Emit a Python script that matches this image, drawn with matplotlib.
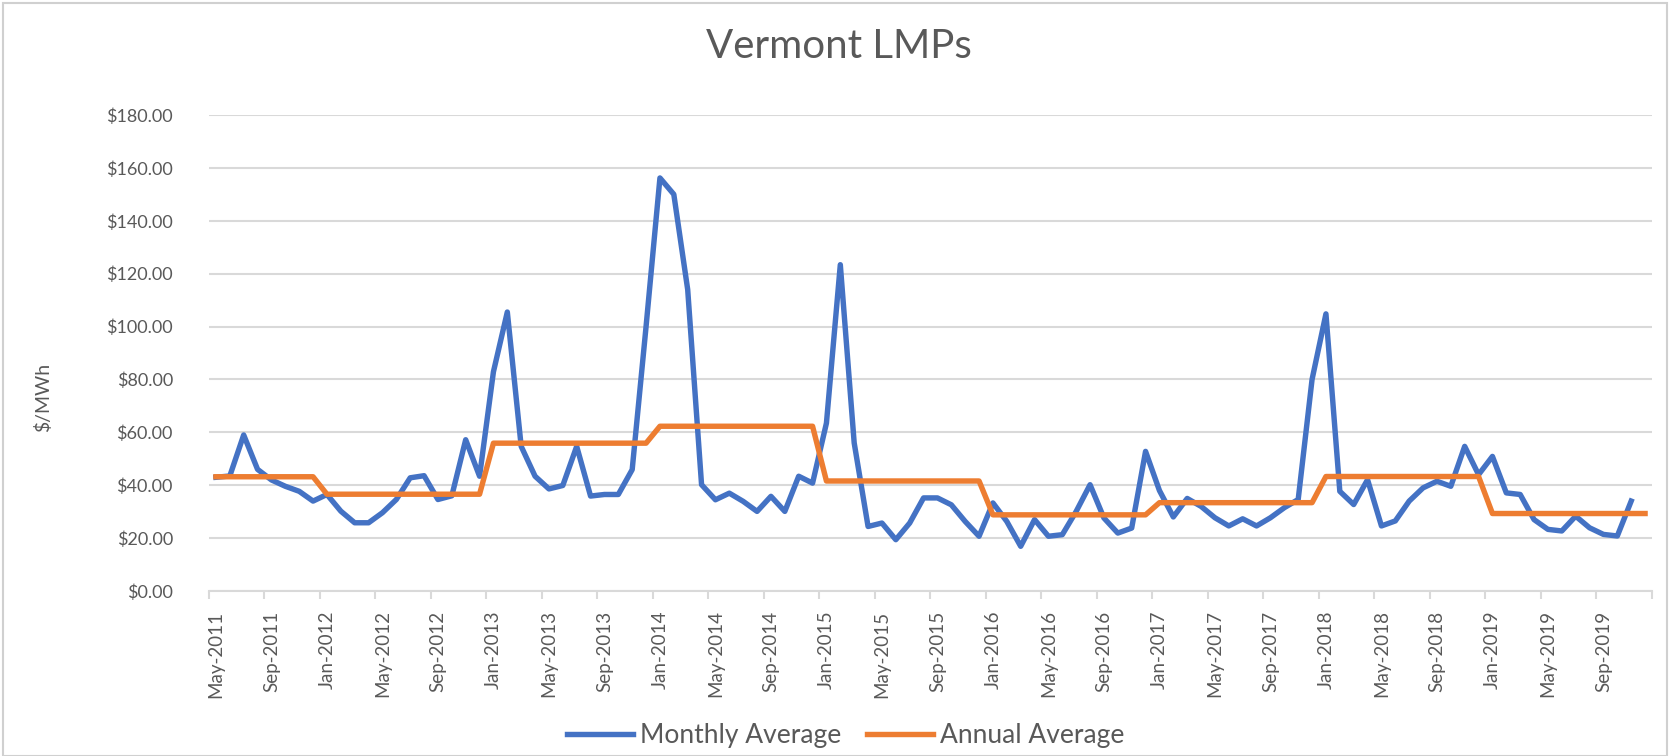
import numpy as np
import pandas as pd
import matplotlib
matplotlib.use('Agg')
import matplotlib.pyplot as plt
from matplotlib.patches import Rectangle

plt.rcParams['font.family'] = ['Lato', 'DejaVu Sans']

# 月次平均 (May-2011 .. Nov-2019), $/MWh
monthly = [43.0, 43.5, 59.0, 46.0, 42.0, 39.6, 37.7, 34.0,
           36.5, 30.2, 25.8, 25.8, 29.6, 34.6, 42.8, 43.6, 34.6, 36.0, 57.2, 43.4,
           82.9, 105.5, 54.7, 43.4, 38.6, 39.9, 54.7, 35.9, 36.5, 36.5, 45.9, 100.0,
           156.2, 150.0, 114.0, 40.2, 34.5, 37.0, 33.9, 30.1, 35.8, 30.1, 43.4, 40.8,
           63.5, 123.4, 56.0, 24.4, 25.7, 19.4, 25.7, 35.2, 35.2, 32.6, 26.3, 20.7,
           33.3, 26.3, 16.9, 27.0, 20.7, 21.3, 30.1, 40.2, 27.6, 21.9, 23.8, 52.8,
           38.0, 28.0, 35.0, 32.0, 27.7, 24.6, 27.3, 24.6, 27.7, 31.5, 34.6, 80.0,
           104.8, 37.7, 32.7, 42.1, 24.6, 26.5, 34.0, 39.0, 41.5, 39.6, 54.7, 44.0,
           50.9, 37.1, 36.5, 27.0, 23.3, 22.7, 28.3, 23.9, 21.4, 20.8, 34.0]

# 年平均
years = [2011, 2012, 2013, 2014, 2015, 2016, 2017, 2018, 2019]
annual = [43.2, 36.6, 55.9, 62.3, 41.6, 28.8, 33.4, 43.3, 29.3]

months = pd.date_range('2011-05-01', '2019-12-01', freq='MS')
month_labels = [m.strftime('%b-%Y') for m in months]
annual_by_month = [annual[years.index(m.year)] for m in months]

blue = '#4472C4'
orange = '#ED7D31'
grey = '#595959'
gridc = '#D9D9D9'

fig = plt.figure(figsize=(16.81, 7.56), dpi=100)
ax = fig.add_axes([209 / 1681, 1 - 591 / 756, 1443 / 1681, 476 / 756])

x = np.arange(len(months))
ax.plot(x[:len(monthly)], monthly, color=blue, lw=3.9, solid_joinstyle='round', zorder=3)
ax.plot(x, annual_by_month, color=orange, lw=3.9, solid_joinstyle='round', zorder=4)

ax.set_xlim(-0.5, len(months) - 0.5)
ax.set_ylim(0, 180)

yt = np.arange(0, 181, 20)
ax.set_yticks(yt)
ax.set_yticklabels([f'${v:.2f}' for v in yt], fontsize=13, color=grey)
ax.tick_params(axis='y', length=0, pad=26)
ax.yaxis.grid(True, color=gridc, lw=1.5)
ax.set_axisbelow(True)

ax.set_xticks(x[::4])
ax.set_xticklabels(month_labels[::4], rotation=90, fontsize=13.5, color=grey)
ax.set_xticks(np.arange(-0.5, len(months), 4), minor=True)
ax.tick_params(axis='x', which='major', length=0, pad=14)
ax.tick_params(axis='x', which='minor', length=6, width=1.5, color=gridc)

for s in ['top', 'right', 'left']:
    ax.spines[s].set_visible(False)
ax.spines['bottom'].set_color(gridc)
ax.spines['bottom'].set_linewidth(1.5)

fig.text(839 / 1681, 1 - 46 / 756, 'Vermont LMPs', ha='center', va='center', fontsize=29, color=grey)
fig.text(43 / 1681, 1 - 397 / 756, '$/MWh', rotation=90, ha='center', va='center', fontsize=14, color=grey)

h1, = ax.plot([], [], color=blue, lw=3.9)
h2, = ax.plot([], [], color=orange, lw=3.9)
fig.legend([h1, h2], ['Monthly Average', 'Annual Average'], loc='center',
           bbox_to_anchor=(0.503, 1 - 736 / 756), ncol=2, frameon=False,
           fontsize=19, handlelength=2.5, columnspacing=1.0, handletextpad=0.25,
           labelcolor=grey)

fig.patches.append(Rectangle((3 / 1681, 0), 1664 / 1681, 1 - 3 / 756, transform=fig.transFigure,
                             fill=False, edgecolor='#D0D0D0', lw=1.5))

fig.savefig('out.png', dpi=100, facecolor='white')
